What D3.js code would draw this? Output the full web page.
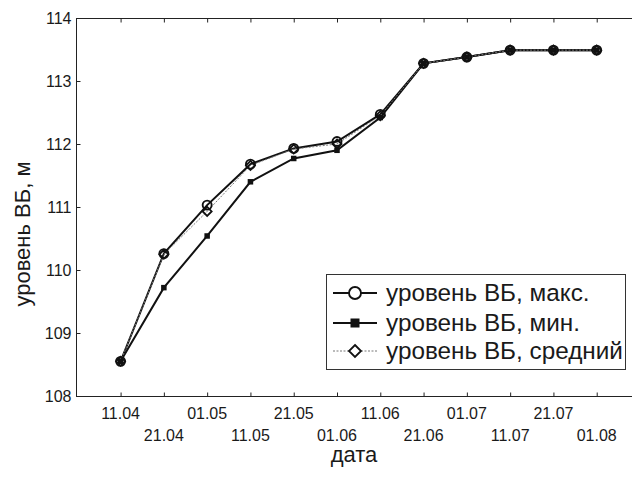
<!DOCTYPE html>
<html><head><meta charset="utf-8">
<script src="https://cdn.jsdelivr.net/npm/d3@7"></script>
<style>body{margin:0;background:#fff}svg{display:block}text{font-family:Arial,"Liberation Sans",sans-serif;fill:#1a1a1a}</style>
</head><body><div id="c"></div>
<script>
const dates = ["11.04","21.04","01.05","11.05","21.05","01.06","11.06","21.06","01.07","11.07","21.07","01.08"];
const levelMax = [108.55,110.26,111.03,111.68,111.93,112.04,112.47,113.28,113.38,113.49,113.49,113.49];
const levelMin = [108.55,109.72,110.54,111.40,111.77,111.90,112.42,113.28,113.38,113.49,113.49,113.49];
const levelMean = [108.55,110.25,110.93,111.66,111.92,112.00,112.45,113.28,113.38,113.49,113.49,113.49];
const yTicks = [108,109,110,111,112,113,114];
const seriesNames = ["уровень ВБ, макс.","уровень ВБ, мин.","уровень ВБ, средний"];

const W=632,H=486;
const svg=d3.select("#c").append("svg").attr("width",W).attr("height",H);
const L=76,R=640,T=18,B=396;
const x=d3.scaleLinear().domain([-1.03,12]).range([L,R]);
const y=d3.scaleLinear().domain([108,114]).range([B,T]);
const idx=d3.range(dates.length);

// frame
svg.append("rect").attr("x",L+0.5).attr("y",T+0.5).attr("width",R-L).attr("height",B-T)
  .attr("fill","none").attr("stroke","#222").attr("stroke-width",1);

// axes
const gx=svg.append("g").attr("transform",`translate(0,${B+0.5})`)
  .call(d3.axisBottom(x).tickValues(idx).tickSize(-4).tickFormat(""));
gx.select(".domain").remove();
gx.selectAll("line").attr("stroke","#222");
svg.append("g").selectAll("text").data(idx).enter().append("text")
  .attr("x",d=>x(d)).attr("y",d=>d%2===0?418.5:441).attr("text-anchor","middle")
  .attr("font-size",16).text(d=>dates[d]);
const gt=svg.append("g").attr("transform",`translate(0,${T+0.5})`)
  .call(d3.axisTop(x).tickValues(idx).tickSize(-4).tickFormat(""));
gt.select(".domain").remove();
gt.selectAll("line").attr("stroke","#222");
const gy=svg.append("g").attr("transform",`translate(${L+0.5},0)`)
  .call(d3.axisLeft(y).tickValues(yTicks).tickSize(-4).tickPadding(5).tickFormat(d3.format("d")));
gy.select(".domain").remove();
gy.selectAll("line").attr("stroke","#222");
gy.selectAll("text").attr("font-size",16).attr("font-family","Arial, 'Liberation Sans', sans-serif").attr("fill","#1a1a1a");

// titles
svg.append("text").attr("x",354).attr("y",462).attr("text-anchor","middle").attr("font-size",22).text("дата");
svg.append("text").attr("transform","translate(30,234) rotate(-90)").attr("text-anchor","middle").attr("font-size",22).text("уровень ВБ, м");

const line=d3.line().x((d,i)=>x(i)).y(d=>y(d));
const g=svg.append("g");
g.append("path").datum(levelMax).attr("d",line).attr("fill","none").attr("stroke","#111").attr("stroke-width",2);
g.append("path").datum(levelMin).attr("d",line).attr("fill","none").attr("stroke","#111").attr("stroke-width",2);
g.append("path").datum(levelMean).attr("d",line).attr("fill","none").attr("stroke","#777").attr("stroke-width",1).attr("stroke-dasharray","2,1.5");

function circ(sel,cx,cy,r,f){sel.append("circle").attr("cx",cx).attr("cy",cy).attr("r",r).attr("fill",f).attr("stroke","#111").attr("stroke-width",1.9);}
function sq(sel,cx,cy,s){sel.append("rect").attr("x",cx-s/2).attr("y",cy-s/2).attr("width",s).attr("height",s).attr("fill","#111");}
function dia(sel,cx,cy,s,f){sel.append("path").attr("d",`M${cx},${cy-s}L${cx+s},${cy}L${cx},${cy+s}L${cx-s},${cy}Z`).attr("fill",f).attr("stroke","#111").attr("stroke-width",1.8);}

levelMax.forEach((v,i)=>circ(g,x(i),y(v),4.5,"none"));
levelMin.forEach((v,i)=>sq(g,x(i),y(v),5.5));
levelMean.forEach((v,i)=>dia(g,x(i),y(v),4.5,"none"));

// legend
const lg=svg.append("g");
lg.append("rect").attr("x",326.5).attr("y",274.5).attr("width",299).attr("height",95).attr("fill","#fff").attr("stroke","#333").attr("stroke-width",1);
const rows=[293,323,351];
rows.forEach((ry,k)=>{
  if(k<2) lg.append("line").attr("x1",333).attr("x2",377).attr("y1",ry).attr("y2",ry).attr("stroke","#111").attr("stroke-width",2);
  else lg.append("line").attr("x1",333).attr("x2",377).attr("y1",ry).attr("y2",ry).attr("stroke","#777").attr("stroke-width",1).attr("stroke-dasharray","2,1.5");
  if(k===0) circ(lg,355,ry,6,"#fff");
  if(k===1) sq(lg,355,ry,9);
  if(k===2) dia(lg,355,ry,6,"#fff");
  lg.append("text").attr("x",386).attr("y",ry+7.5).attr("font-size",24.3).text(seriesNames[k]);
});
</script></body></html>
